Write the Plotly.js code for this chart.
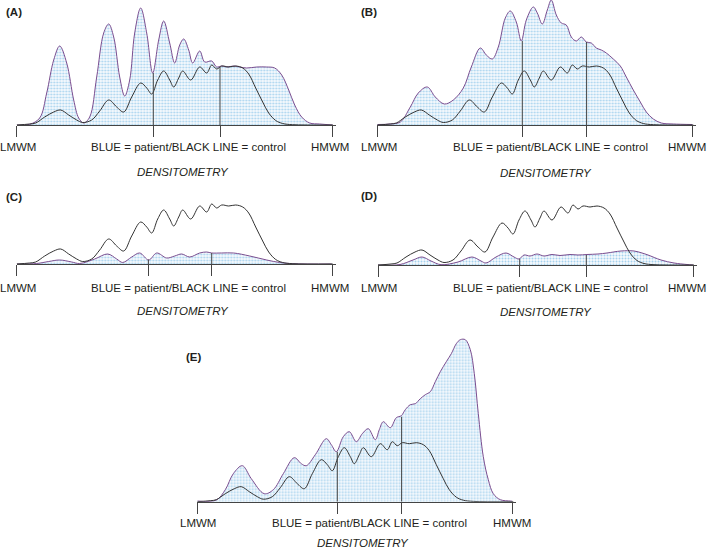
<!DOCTYPE html>
<html>
<head>
<meta charset="utf-8">
<script src="https://cdn.plot.ly/plotly-3.0.1.min.js"></script>
<style>html,body{margin:0;padding:0;background:#fff;}#chart{width:709px;height:552px;}</style>
</head>
<body>
<div id="chart"></div>
<script>
// ---------- DATA (x = mobility position along the gel, y = density) ----------
const controlX = [0, 13, 19, 28, 37, 44, 52, 60, 66, 75, 83, 92, 100, 107, 115, 124, 130, 135, 141, 147, 153, 157, 162, 166, 174, 183, 190, 195, 200, 205, 212, 219, 226, 232, 239, 246, 252, 259, 266, 276, 316];
const controlY = [0, 1, 2, 8, 13, 15, 10, 5, 2.5, 5, 14, 25, 18, 13, 28, 42, 37, 31, 45, 54, 45, 38, 47, 54, 45, 58, 52, 60, 56, 59, 58, 59, 57, 51, 37, 23, 12, 4.5, 1.5, 0.3, 0];

const patientAX = [0, 13, 23, 30, 37, 43, 50, 57, 62, 67, 73, 80, 87, 92, 97, 103, 108, 113, 118, 124, 130, 136, 142, 147, 153, 158, 163, 167, 172, 176, 183, 188, 195, 200, 205, 210, 217, 223, 230, 240, 250, 258, 265, 272, 278, 285, 293, 303, 316];
const patientAY = [0, 0.7, 7, 32, 65, 79, 62, 25, 7, 2, 8, 48, 92, 101, 88, 48, 29, 45, 92, 117, 92, 52, 85, 104, 82, 62, 80, 86, 75, 62, 74, 63, 64, 58, 59, 58, 59, 58, 57, 58, 58, 57, 50, 35, 20, 8, 2, 1, 0];

const patientBX = [0, 13, 23, 33, 41, 50, 58, 67, 76, 86, 94, 103, 109, 115, 121, 128, 133, 139, 144, 149, 156, 160, 165, 170, 174, 179, 184, 189, 194, 199, 204, 209, 214, 219, 224, 229, 236, 243, 249, 256, 263, 269, 276, 284, 296, 315];
const patientBY = [0.5, 1, 3, 18, 32, 38, 28, 21, 25, 37, 58, 77, 70, 66, 78, 107, 114, 103, 84, 105, 118, 112, 101, 115, 125, 110, 102, 100, 88, 84, 88, 83, 82, 77, 75, 72, 66, 59, 48, 35, 23, 13, 6, 2, 1, 0.5];

const patientCX = [0, 20, 32, 43, 55, 63, 78, 91, 100, 106, 115, 123, 132, 140, 150, 158, 165, 173, 183, 190, 195, 205, 217, 233, 250, 263, 277, 315];
const patientCY = [0, 0.5, 2.5, 4, 2, 0.5, 5, 10, 5, 1.5, 7, 11, 4, 11, 6, 8, 10, 7, 11, 12, 11, 11, 11, 8, 4, 1.5, 0.3, 0];

const patientDX = [0, 22, 35, 44, 53, 63, 80, 94, 103, 108, 118, 128, 136, 141, 146, 152, 159, 166, 174, 182, 192, 200, 209, 220, 229, 243, 256, 264, 270, 283, 296, 309, 315];
const patientDY = [0, 0.5, 5, 8, 4, 0.3, 3, 8, 4, 2, 8, 12, 8, 6, 10, 9, 11, 9, 10.5, 9.5, 10.5, 10, 10.5, 11, 12, 14, 14, 12, 10, 5, 2, 0.5, 0];

const patientEX = [0, 19, 28, 36, 45, 54, 67, 76, 86, 97, 104, 109, 118, 129, 134, 139, 146, 152, 159, 165, 171, 178, 182, 186, 193, 199, 204, 208, 213, 218, 223, 228, 233, 238, 243, 249, 254, 259, 263, 268, 273, 277, 281, 286, 291, 296, 303, 313, 315];
const patientEY = [0.7, 1.7, 12, 28, 36, 23, 8, 12, 28, 44, 38, 36, 47, 63, 57, 50, 65, 70, 60, 68, 73, 62, 72, 80, 74, 84, 86, 92, 97, 98, 103, 107, 110, 120, 130, 140, 148, 158, 162, 162, 152, 128, 88, 45, 22, 8, 2, 0.7, 0.5];

// reference marker lines (position, density of patient curve at that position)
const markerAX = [136.6, 203.3], markerAY = [52, 58];
const markerBX = [145, 209.3],   markerBY = [84, 83];
const markerCX = [131.7, 195],   markerCY = [4.5, 11];
const markerDX = [141.7, 208.3], markerDY = [6, 10];
const markerEX = [140, 204.3],   markerEY = [50, 85];

const endTicks = [0, 315.5];
const panelLabels = ['(A)', '(B)', '(C)', '(D)', '(E)'];
const leftLabel = 'LMWM';
const midLabel = 'BLUE = patient/BLACK LINE = control';
const rightLabel = 'HMWM';
const axisTitle = 'DENSITOMETRY';

// ---------- LAYOUT (pixel geometry) ----------
const W = 709, H = 552;
const panels = [
  {px: patientAX, py: patientAY, mx: markerAX, my: markerAY, left: 16.7, base: 125, top: 125,
   tag: [14, 11.7], lm: [18, 147], mid: [188.5, 147], hm: [330, 147], den: [183.3, 172]},
  {px: patientBX, py: patientBY, mx: markerBX, my: markerBY, left: 377.3, base: 125, top: 125,
   tag: [369, 11.7], lm: [379.5, 147], mid: [550, 147], hm: [687.3, 147], den: [545.7, 173]},
  {px: patientCX, py: patientCY, mx: markerCX, my: markerCY, left: 16.7, base: 264, top: 80,
   tag: [14.3, 196.7], lm: [18, 288.3], mid: [188.8, 288.3], hm: [330, 288.3], den: [183, 311]},
  {px: patientDX, py: patientDY, mx: markerDX, my: markerDY, left: 378, base: 265, top: 80,
   tag: [369, 195.5], lm: [379.5, 287.5], mid: [550, 287.5], hm: [687.3, 287.5], den: [545.7, 311.7]},
  {px: patientEX, py: patientEY, mx: markerEX, my: markerEY, left: 197.3, base: 501.7, top: 170,
   tag: [194, 356.7], lm: [198.3, 523.3], mid: [369.2, 523.3], hm: [511.7, 523.3], den: [363.3, 543.3]}
];
const XSPAN = 319;

const FONT = 'Liberation Sans, Arial, Helvetica, sans-serif';
const TXT = '#231f20';
const traces = [];
const layout = {
  width: W, height: H,
  margin: {l: 0, r: 0, t: 0, b: 0},
  paper_bgcolor: '#ffffff', plot_bgcolor: 'rgba(0,0,0,0)',
  showlegend: false,
  font: {family: FONT, size: 11.5, color: TXT},
  annotations: []
};

function ann(text, pos, italic) {
  layout.annotations.push({
    xref: 'paper', yref: 'paper', x: pos[0] / W, y: 1 - pos[1] / H,
    xanchor: 'center', yanchor: 'middle', showarrow: false,
    text: text,
    font: {family: FONT, size: 11.5, color: TXT, style: italic ? 'italic' : 'normal'}
  });
}

panels.forEach((p, i) => {
  const n = i === 0 ? '' : String(i + 1);
  const xa = 'x' + n, ya = 'y' + n;
  layout['xaxis' + n] = {
    domain: [p.left / W, (p.left + XSPAN) / W],
    range: [0, XSPAN], anchor: ya,
    showgrid: false, zeroline: false, showline: true, linecolor: '#444', linewidth: 1,
    ticks: 'outside', ticklen: 11, tickwidth: 1, tickcolor: '#444',
    tickvals: [endTicks[0], p.mx[0], p.mx[1], endTicks[1]],
    showticklabels: false, fixedrange: true
  };
  layout['yaxis' + n] = {
    domain: [(H - p.base) / H, (H - p.base + p.top) / H],
    range: [0, p.top], anchor: xa, visible: false, fixedrange: true
  };
  // patient (filled)
  traces.push({
    type: 'scatter', mode: 'lines', x: p.px, y: p.py, xaxis: xa, yaxis: ya,
    line: {color: '#7a4d8f', width: 1, shape: 'spline', smoothing: 1},
    fill: 'tozeroy', fillcolor: '#eef6fb',
    fillpattern: {shape: '.', fgcolor: '#a6d2ee', bgcolor: '#f8fbfe', size: 3, solidity: 0.35},
    hoverinfo: 'skip'
  });
  // control
  traces.push({
    type: 'scatter', mode: 'lines', x: controlX, y: controlY, xaxis: xa, yaxis: ya,
    line: {color: '#333333', width: 1, shape: 'spline', smoothing: 1},
    hoverinfo: 'skip'
  });
  // marker lines
  p.mx.forEach((mx, k) => {
    traces.push({
      type: 'scatter', mode: 'lines', x: [mx, mx], y: [0, p.my[k]], xaxis: xa, yaxis: ya,
      line: {color: '#444', width: 1}, hoverinfo: 'skip'
    });
  });
  ann('<b>' + panelLabels[i] + '</b>', p.tag, false);
  ann(leftLabel, p.lm, false);
  ann(midLabel, p.mid, false);
  ann(rightLabel, p.hm, false);
  ann(axisTitle, p.den, true);
});

Plotly.newPlot('chart', traces, layout, {staticPlot: true, displayModeBar: false});
</script>
</body>
</html>
